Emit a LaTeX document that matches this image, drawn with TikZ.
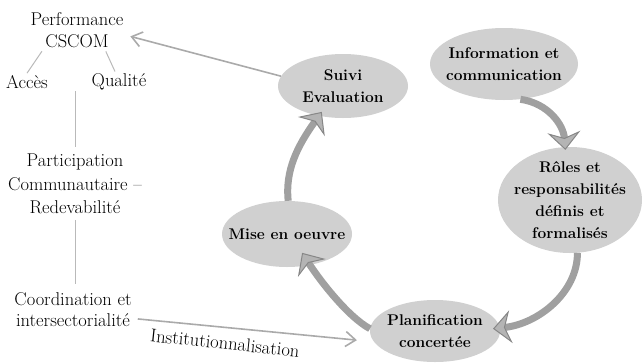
\documentclass[tikz,border=0pt]{standalone}
\usepackage{fontspec}
\usetikzlibrary{shapes.geometric,arrows.meta,calc}
\definecolor{ellfill}{RGB}{208,208,208}
\definecolor{arrbody}{RGB}{160,160,160}
\definecolor{headfill}{RGB}{180,180,180}
\definecolor{headdraw}{RGB}{135,135,135}
\definecolor{thinline}{RGB}{185,185,185}
\definecolor{thinarrow}{RGB}{170,170,170}
\begin{document}
\begin{tikzpicture}[x=1pt,y=-1pt,
  stage/.style={ellipse, fill=ellfill, inner sep=0pt},
  stagetext/.style={font=\fontsize{15.5}{22}\selectfont\bfseries, align=center, inner sep=0pt},
  lbl/.style={font=\fontsize{18.5}{22}\selectfont, align=center, inner sep=2pt},
  cyc/.style={line width=7pt, draw=arrbody,
    -{Stealth[length=18pt,width=33pt,inset=6pt,line width=1pt,color=headdraw,fill=headfill]}},
  thinl/.style={draw=thinline, line width=1pt},
  thinarr/.style={draw=thinarrow, line width=1.6pt,
    -{Straight Barb[length=10pt,width=15pt,line width=1.6pt]}}
]
\useasboundingbox (0,0) rectangle (642,362);

% stage ellipses
\node[stage, minimum width=148pt, minimum height=72pt] (info) at (504,64) {};
\node[stage, minimum width=144pt, minimum height=106pt] (roles) at (570,200) {};
\node[stage, minimum width=130pt, minimum height=62pt] (planif) at (435,331) {};
\node[stage, minimum width=130pt, minimum height=66pt] (mise) at (287,234) {};
\node[stage, minimum width=130pt, minimum height=64pt] (suivi) at (343,86) {};

% cycle arrows
\draw[cyc] (info.-65) .. controls +(28,4) and +(-2,-25) .. ([yshift=-3pt]roles.95);
\draw[cyc] (roles.-82) .. controls +(0,40) and +(45,-5) .. ($(planif.2)+(-7,0)$);
\draw[cyc] (planif.178) .. controls +(-22,-12) and +(18,28) .. ($(mise.-52)+(-9,-12)$);
\draw[cyc] (mise.88) .. controls +(-3,-30) and +(-25,35) .. ($(suivi.-129)+(3,-4)$);

% stage texts
\node[stagetext] (infoT) at (info) {Information et\\communication};
\node[stagetext] (rolesT) at (roles) {Rôles et\\responsabilités\\définis et\\formalisés};
\node[stagetext] (planifT) at (planif) {Planification\\concertée};
\node[stagetext] (miseT) at (mise) {Mise en oeuvre};
\node[stagetext] (suiviT) at (suivi) {Suivi\\Evaluation};

% left column
\node[lbl, font=\fontsize{18.5}{21.5}\selectfont] (perf) at (77,30) {Performance\\CSCOM};
\node[lbl] (acces) at (27,82) {Accès};
\node[lbl] (qualite) at (119,82) {Qualité};
\node[lbl, font=\fontsize{18.5}{23.5}\selectfont] (particip) at (75,184) {Participation\\Communautaire –\\Redevabilité};
\node[lbl, font=\fontsize{18.5}{21}\selectfont] (coord) at (73,310) {Coordination et\\intersectorialité};
\node[lbl, rotate=-6, inner sep=0pt] (inst) at (225,343) {Institutionnalisation};

\draw[thinl, shorten <=2pt] (perf.-150) -- (acces.north);
\draw[thinl, shorten <=2pt] (perf.-35) -- ([xshift=-4pt]qualite.north);
\draw[thinl, shorten <=5pt] (particip.north) -- (particip.north |- acces.south);
\draw[thinl, shorten <=4pt, shorten >=7pt] (particip.south) -- (particip.south |- coord.north);

% thin arrows
\draw[thinarr, shorten >=5pt] (suivi.171) -- (perf.-6);
\draw[thinarr, shorten <=4pt, shorten >=17pt] (coord.-8) -- (planif.190);
\end{tikzpicture}
\end{document}
